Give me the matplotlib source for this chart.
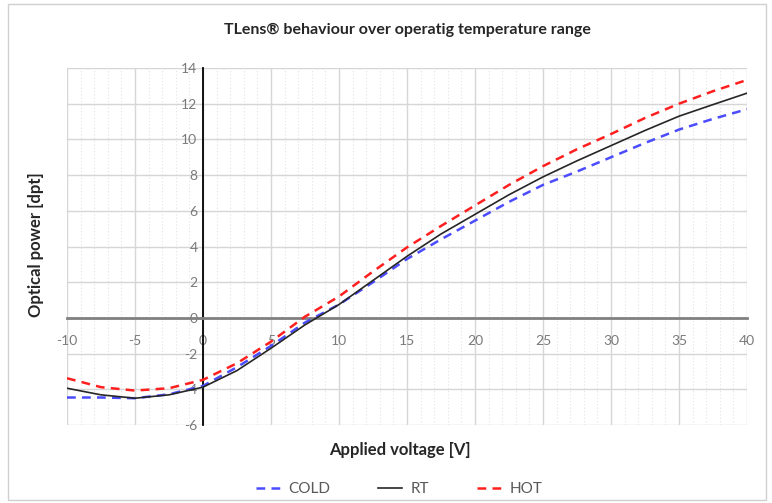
import numpy as np
import matplotlib
matplotlib.use("Agg")
import matplotlib.pyplot as plt
from matplotlib.ticker import MultipleLocator
from matplotlib.patches import Rectangle

# values
voltage = [-10, -7.5, -5, -2.5, 0, 2.5, 5, 7.5, 10, 12.5, 15, 17.5, 20,
           22.5, 25, 27.5, 30, 32.5, 35, 37.5, 40]
cold = [-4.46, -4.46, -4.5, -4.28, -3.81, -2.76, -1.57, -0.26, 0.75, 2.0, 3.3,
        4.4, 5.45, 6.5, 7.45, 8.2, 9.0, 9.8, 10.55, 11.15, 11.69]
rt = [-3.94, -4.31, -4.5, -4.31, -3.88, -2.95, -1.7, -0.39, 0.75, 2.1, 3.45,
      4.7, 5.8, 6.9, 7.9, 8.8, 9.65, 10.5, 11.3, 11.95, 12.59]
hot = [-3.38, -3.88, -4.07, -3.94, -3.47, -2.54, -1.33, 0.07, 1.2, 2.6, 3.95,
       5.15, 6.3, 7.45, 8.5, 9.45, 10.3, 11.2, 12.0, 12.7, 13.33]

x_ticks = [-10, -5, 0, 5, 10, 15, 20, 25, 30, 35, 40]
y_ticks = [-6, -4, -2, 0, 2, 4, 6, 8, 10, 12, 14]

plt.rcParams['font.family'] = ['Lato', 'DejaVu Sans']

fig = plt.figure(figsize=(7.72, 5.03), dpi=100)
ax = fig.add_axes([67/772, 1-425/503, 680/772, 357/503])

# outer chart border
fig.patches.append(Rectangle((8/772, 3/503), 758/772, 496/503, transform=fig.transFigure,
                             fill=False, edgecolor='#d0d0d0', linewidth=1))

ax.plot(voltage, cold, color='#4b4bff', linestyle=(0, (3.5, 2.5)), linewidth=1.8, label='COLD', zorder=4)
ax.plot(voltage, rt, color='#262626', linewidth=1.2, label='RT', zorder=5)
ax.plot(voltage, hot, color='#ff1f1f', linestyle=(0, (3.5, 2.5)), linewidth=1.8, label='HOT', zorder=4)

ax.set_xlim(-10, 40)
ax.set_ylim(-6, 14)
ax.set_xticks(x_ticks)
ax.set_yticks(y_ticks)
ax.set_xticklabels([str(t) for t in x_ticks])
ax.set_yticklabels([str(t) for t in y_ticks])
ax.xaxis.set_minor_locator(MultipleLocator(1))

ax.grid(True, which='major', color='#d6d6d6', linewidth=1.0, zorder=0)
ax.grid(True, which='minor', axis='x', color='#e3e3e3', linewidth=0.8, linestyle=(0, (1, 2)), zorder=0)
ax.set_axisbelow(True)

for s in ['top', 'right']:
    ax.spines[s].set_visible(False)
ax.spines['left'].set_position(('data', 0))
ax.spines['bottom'].set_position(('data', 0))
ax.spines['left'].set_color('black')
ax.spines['left'].set_linewidth(1.3)
ax.spines['bottom'].set_color('#808080')
ax.spines['bottom'].set_linewidth(2)

ax.tick_params(axis='both', which='both', length=0, labelsize=10, labelcolor='#7a7a7a')
ax.tick_params(axis='y', pad=4)
ax.tick_params(axis='x', pad=12)

fig.text(407/772, 1-30/503, 'TLens® behaviour over operatig temperature range',
         ha='center', va='center', fontsize=11.5, fontweight='bold', color='#262626')
fig.text(400/772, 1-450/503, 'Applied voltage [V]', ha='center', va='center',
         fontsize=12, fontweight='bold', color='#262626')
fig.text(36/772, 1-245/503, 'Optical power [dpt]', ha='center', va='center',
         rotation=90, fontsize=12, fontweight='bold', color='#262626')

fig.legend(loc='center', bbox_to_anchor=(399/772, 1-489/503), ncol=3, frameon=False,
           fontsize=11, handlelength=1.6, columnspacing=3.1, handletextpad=0.55,
           labelcolor='#595959')

fig.savefig('out.png', dpi=100)
